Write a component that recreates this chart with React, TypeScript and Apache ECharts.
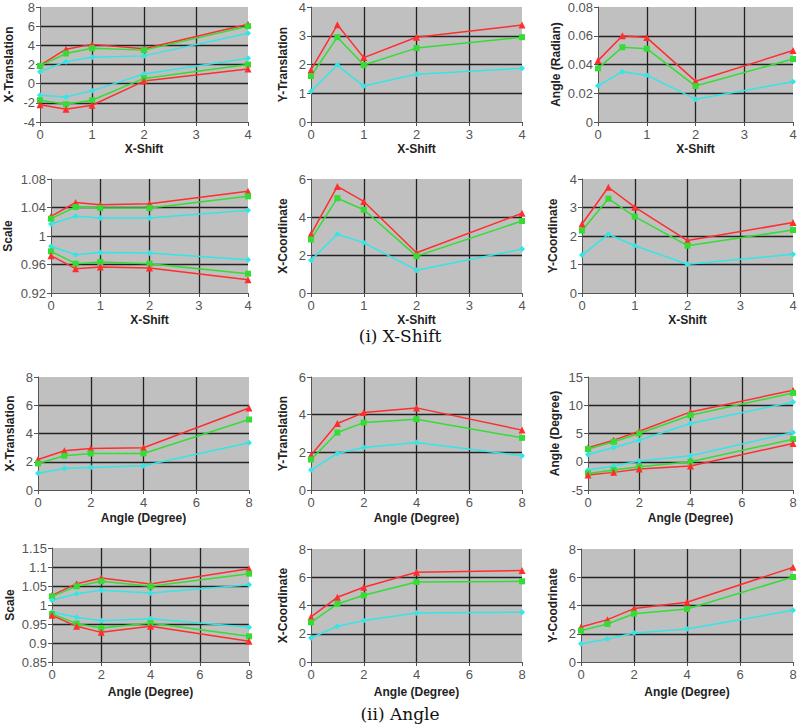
import React, { useEffect, useRef } from "react";
import * as echarts from "echarts";

// x values
const xShift = [0, 0.5, 1, 2, 4];
const angleDeg = [0, 1, 2, 4, 8];

// (i) X-Shift : X-Translation
const xsXTransRedHi = [1.9, 3.6, 4.1, 3.65, 6.2];
const xsXTransGreenHi = [1.85, 3.15, 3.7, 3.5, 6.0];
const xsXTransCyanHi = [1.25, 2.3, 2.75, 2.9, 5.25];
const xsXTransCyanLo = [-1.2, -1.38, -0.75, 1.0, 2.65];
const xsXTransGreenLo = [-1.73, -2.15, -1.73, 0.55, 2.0];
const xsXTransRedLo = [-2.2, -2.67, -2.25, 0.27, 1.52];
// Y-Translation
const xsYTransRed = [1.81, 3.38, 2.24, 2.95, 3.37];
const xsYTransGreen = [1.6, 2.95, 1.98, 2.57, 2.95];
const xsYTransCyan = [1.07, 1.98, 1.25, 1.66, 1.87];
// Angle (Radian)
const xsAngleRed = [0.0427, 0.06, 0.0587, 0.0284, 0.0497];
const xsAngleGreen = [0.0373, 0.052, 0.051, 0.025, 0.0438];
const xsAngleCyan = [0.0252, 0.035, 0.0326, 0.0159, 0.028];
// Scale
const xsScaleRedHi = [1.0276, 1.047, 1.044, 1.0454, 1.0627];
const xsScaleGreenHi = [1.0243, 1.0407, 1.0393, 1.0393, 1.0557];
const xsScaleCyanHi = [1.0168, 1.0276, 1.0253, 1.0253, 1.036];
const xsScaleCyanLo = [0.9855, 0.9738, 0.977, 0.976, 0.9668];
const xsScaleGreenLo = [0.9785, 0.9612, 0.9635, 0.9612, 0.9471];
const xsScaleRedLo = [0.9724, 0.9541, 0.9565, 0.955, 0.9387];
// X-Coordinate
const xsXCoordRed = [3.1, 5.61, 4.82, 2.12, 4.2];
const xsXCoordGreen = [2.82, 4.99, 4.38, 1.94, 3.79];
const xsXCoordCyan = [1.73, 3.09, 2.65, 1.2, 2.31];
// Y-Coordinate
const xsYCoordRed = [2.42, 3.71, 3.01, 1.84, 2.47];
const xsYCoordGreen = [2.19, 3.31, 2.68, 1.66, 2.21];
const xsYCoordCyan = [1.33, 2.06, 1.66, 1.01, 1.36];

// (ii) Angle : X-Translation
const anXTransRed = [2.16, 2.78, 2.94, 2.99, 5.81];
const anXTransGreen = [1.88, 2.42, 2.59, 2.59, 4.99];
const anXTransCyan = [1.18, 1.53, 1.6, 1.72, 3.34];
// Y-Translation
const anYTransRed = [1.85, 3.53, 4.11, 4.36, 3.18];
const anYTransGreen = [1.62, 3.05, 3.58, 3.76, 2.77];
const anYTransCyan = [1.06, 1.94, 2.26, 2.52, 1.82];
// Angle (Degree)
const anAngleRedHi = [2.47, 3.82, 5.41, 8.82, 12.65];
const anAngleGreenHi = [2.24, 3.53, 5.0, 8.24, 12.18];
const anAngleCyanHi = [1.29, 2.53, 3.82, 6.76, 10.59];
const anAngleCyanLo = [-1.47, -0.76, 0.12, 1.06, 5.18];
const anAngleGreenLo = [-2.06, -1.47, -0.88, 0, 4.0];
const anAngleRedLo = [-2.35, -1.88, -1.29, -0.76, 3.24];
// Scale
const anScaleRedHi = [1.0254, 1.0561, 1.071, 1.0553, 1.0956];
const anScaleGreenHi = [1.0228, 1.0491, 1.0623, 1.0491, 1.0825];
const anScaleCyanHi = [1.0123, 1.0298, 1.0386, 1.0316, 1.0535];
const anScaleCyanLo = [0.9816, 0.9675, 0.9588, 0.964, 0.9412];
const anScaleGreenLo = [0.9763, 0.9509, 0.9395, 0.9526, 0.9175];
const anScaleRedLo = [0.9728, 0.9439, 0.928, 0.9439, 0.9044];
// X-Coordinate
const anXCoordRed = [3.19, 4.58, 5.29, 6.35, 6.47];
const anXCoordGreen = [2.81, 4.11, 4.72, 5.66, 5.71];
const anXCoordCyan = [1.7, 2.53, 2.93, 3.47, 3.52];
// Y-Coodrinate
const anYCoordRed = [2.48, 3.0, 3.78, 4.23, 6.7];
const anYCoordGreen = [2.22, 2.69, 3.42, 3.75, 6.02];
const anYCoordCyan = [1.3, 1.63, 2.05, 2.34, 3.66];

const RED = "#ff2e2e";
const GREEN = "#33dd33";
const CYAN = "#33e6e6";

type S = [string, number[]];
type Panel = {
  g: [number, number, number, number];
  yName: string;
  yGap: number;
  xGap: number;
  yMin: number;
  yMax: number;
  yInt: number;
  xName: string;
  xs: number[];
  xMax: number;
  xInt: number;
  series: S[];
};

const panels: Panel[] = [
  { g: [40, 7, 208, 115], yName: "X-Translation", yGap: 25, xGap: 21, yMin: -4, yMax: 8, yInt: 2, xName: "X-Shift", xs: xShift, xMax: 4, xInt: 1,
    series: [["r", xsXTransRedHi], ["g", xsXTransGreenHi], ["c", xsXTransCyanHi], ["c", xsXTransCyanLo], ["g", xsXTransGreenLo], ["r", xsXTransRedLo]] },
  { g: [311, 7, 211, 115], yName: "Y-Translation", yGap: 22, xGap: 21, yMin: 0, yMax: 4, yInt: 1, xName: "X-Shift", xs: xShift, xMax: 4, xInt: 1,
    series: [["r", xsYTransRed], ["g", xsYTransGreen], ["c", xsYTransCyan]] },
  { g: [598, 7, 195, 115], yName: "Angle (Radian)", yGap: 36, xGap: 21, yMin: 0, yMax: 0.08, yInt: 0.02, xName: "X-Shift", xs: xShift, xMax: 4, xInt: 1,
    series: [["r", xsAngleRed], ["g", xsAngleGreen], ["c", xsAngleCyan]] },
  { g: [51, 179, 197, 114], yName: "Scale", yGap: 37, xGap: 21, yMin: 0.92, yMax: 1.08, yInt: 0.04, xName: "X-Shift", xs: xShift, xMax: 4, xInt: 1,
    series: [["r", xsScaleRedHi], ["g", xsScaleGreenHi], ["c", xsScaleCyanHi], ["c", xsScaleCyanLo], ["g", xsScaleGreenLo], ["r", xsScaleRedLo]] },
  { g: [311, 179, 211, 114], yName: "X-Coordinate", yGap: 22, xGap: 21, yMin: 0, yMax: 6, yInt: 2, xName: "X-Shift", xs: xShift, xMax: 4, xInt: 1,
    series: [["r", xsXCoordRed], ["g", xsXCoordGreen], ["c", xsXCoordCyan]] },
  { g: [582, 179, 211, 114], yName: "Y-Coordinate", yGap: 23, xGap: 21, yMin: 0, yMax: 4, yInt: 1, xName: "X-Shift", xs: xShift, xMax: 4, xInt: 1,
    series: [["r", xsYCoordRed], ["g", xsYCoordGreen], ["c", xsYCoordCyan]] },
  { g: [38, 377, 211, 113], yName: "X-Translation", yGap: 22, xGap: 22, yMin: 0, yMax: 8, yInt: 2, xName: "Angle (Degree)", xs: angleDeg, xMax: 8, xInt: 2,
    series: [["r", anXTransRed], ["g", anXTransGreen], ["c", anXTransCyan]] },
  { g: [311, 377, 211, 113], yName: "Y-Translation", yGap: 22, xGap: 22, yMin: 0, yMax: 6, yInt: 2, xName: "Angle (Degree)", xs: angleDeg, xMax: 8, xInt: 2,
    series: [["r", anYTransRed], ["g", anYTransGreen], ["c", anYTransCyan]] },
  { g: [588, 377, 205, 113], yName: "Angle (Degree)", yGap: 27, xGap: 22, yMin: -5, yMax: 15, yInt: 5, xName: "Angle (Degree)", xs: angleDeg, xMax: 8, xInt: 2,
    series: [["r", anAngleRedHi], ["g", anAngleGreenHi], ["c", anAngleCyanHi], ["c", anAngleCyanLo], ["g", anAngleGreenLo], ["r", anAngleRedLo]] },
  { g: [52, 548, 197, 114], yName: "Scale", yGap: 36, xGap: 24, yMin: 0.85, yMax: 1.15, yInt: 0.05, xName: "Angle (Degree)", xs: angleDeg, xMax: 8, xInt: 2,
    series: [["r", anScaleRedHi], ["g", anScaleGreenHi], ["c", anScaleCyanHi], ["c", anScaleCyanLo], ["g", anScaleGreenLo], ["r", anScaleRedLo]] },
  { g: [311, 549, 211, 113], yName: "X-Coordinate", yGap: 22, xGap: 24, yMin: 0, yMax: 8, yInt: 2, xName: "Angle (Degree)", xs: angleDeg, xMax: 8, xInt: 2,
    series: [["r", anXCoordRed], ["g", anXCoordGreen], ["c", anXCoordCyan]] },
  { g: [581, 549, 212, 113], yName: "Y-Coodrinate", yGap: 22, xGap: 24, yMin: 0, yMax: 8, yInt: 2, xName: "Angle (Degree)", xs: angleDeg, xMax: 8, xInt: 2,
    series: [["r", anYCoordRed], ["g", anYCoordGreen], ["c", anYCoordCyan]] },
];

const captions = [
  { text: "(i) X-Shift", y: 336 },
  { text: "(ii) Angle", y: 714 },
];

const fmt = (v: number) => String(parseFloat(v.toFixed(4)));

export default function App() {
  const ref = useRef<HTMLDivElement>(null);
  useEffect(() => {
    if (!ref.current) return;
    const chart = echarts.init(ref.current, undefined, { renderer: "svg" });
    const grid: any[] = [];
    const xAxis: any[] = [];
    const yAxis: any[] = [];
    const series: any[] = [];
    const sty: Record<string, { color: string; symbol: string; size: number }> = {
      r: { color: RED, symbol: "triangle", size: 7 },
      g: { color: GREEN, symbol: "rect", size: 6 },
      c: { color: CYAN, symbol: "diamond", size: 6 },
    };
    const axisLabel = { color: "#555", fontSize: 13, fontFamily: "Liberation Sans, Arial, sans-serif" };
    const nameStyle = { color: "#222", fontSize: 12, fontWeight: "bold", fontFamily: "Liberation Sans, Arial, sans-serif" };
    panels.forEach((p, i) => {
      grid.push({
        left: p.g[0], top: p.g[1], width: p.g[2], height: p.g[3],
        show: true, backgroundColor: "#c0c0c0", borderWidth: 0,
      });
      xAxis.push({
        type: "value", gridIndex: i, min: 0, max: p.xMax, interval: p.xInt,
        name: p.xName, nameLocation: "middle", nameGap: p.xGap, nameTextStyle: nameStyle,
        axisLine: { show: true, onZero: false, lineStyle: { color: "#555", width: 1 } },
        axisTick: { show: true, length: 4, lineStyle: { color: "#555" } },
        axisLabel: { ...axisLabel, margin: 6 },
        splitLine: { show: true, showMinLine: false, showMaxLine: false, lineStyle: { color: "#222", width: 1.3 } },
      });
      yAxis.push({
        type: "value", gridIndex: i, min: p.yMin, max: p.yMax, interval: p.yInt,
        name: p.yName, nameLocation: "middle", nameGap: p.yGap, nameTextStyle: nameStyle,
        axisLine: { show: true, onZero: false, lineStyle: { color: "#555", width: 1 } },
        axisTick: { show: true, length: 4, lineStyle: { color: "#555" } },
        axisLabel: { ...axisLabel, margin: 5, formatter: fmt },
        splitLine: { show: true, showMinLine: false, showMaxLine: false, lineStyle: { color: "#222", width: 1.3 } },
      });
      p.series.forEach(([k, arr]) => {
        const s = sty[k];
        series.push({
          type: "line", xAxisIndex: i, yAxisIndex: i,
          data: p.xs.map((x, j) => [x, arr[j]]),
          symbol: s.symbol, symbolSize: s.size, showSymbol: true,
          lineStyle: { color: s.color, width: 1.5 },
          itemStyle: { color: s.color },
          z: 3,
        });
      });
    });
    chart.setOption({
      animation: false,
      grid, xAxis, yAxis, series,
      graphic: captions.map((c) => ({
        type: "text", x: 400, y: c.y,
        style: {
          text: c.text, textAlign: "center", textVerticalAlign: "middle",
          font: "17px 'DejaVu Serif', serif", fill: "#111",
        },
      })),
    });
    return () => chart.dispose();
  }, []);
  return (
    <div
      ref={ref}
      style={{ position: "absolute", left: 0, top: 0, width: 800, height: 727, background: "#fff" }}
    />
  );
}
